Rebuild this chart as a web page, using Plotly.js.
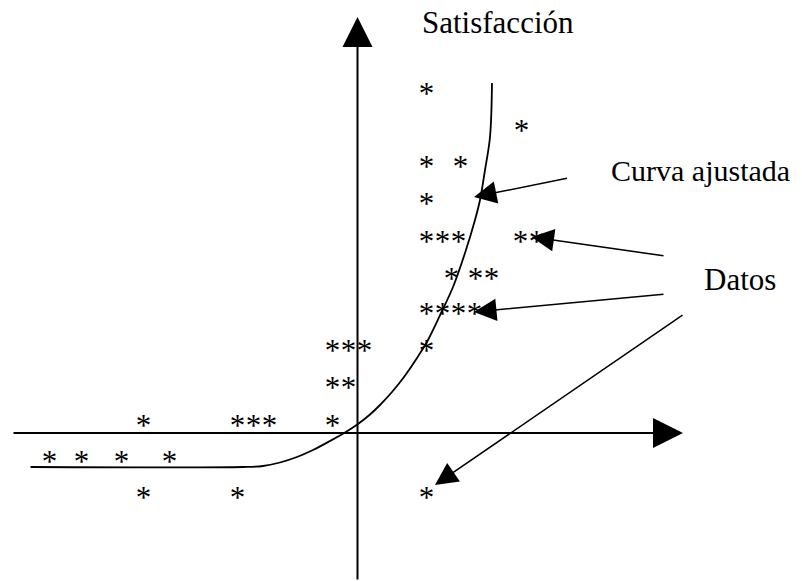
<!DOCTYPE html>
<html>
<head>
<meta charset="utf-8">
<script src="https://cdn.plot.ly/plotly-3.0.1.min.js"></script>
<style>html,body{margin:0;padding:0;background:#fff;}#chart{width:802px;height:581px;}</style>
</head>
<body>
<div id="chart"></div>
<script>
// Fitted curve (schematic units, origin at axis crossing)
var curveX = [-32.7, -11.45, -9.45, -7.75, -6.05, -4.45, -2.75, -1.25, 0.05, 1.25, 2.25, 3.45, 4.65, 5.95, 7.05, 8.45, 9.55, 10.75, 11.75, 12.25, 12.75, 13.25, 13.45];
var curveY = [-3.4, -3.4, -3.3, -2.95, -2.4, -1.7, -0.8, 0.05, 0.9, 1.85, 2.8, 4.1, 5.6, 7.5, 9.3, 12.2, 14.6, 18.0, 21.3, 23.3, 26.3, 29.6, 35.0];

// Data points (asterisks)
var datosX = [6.9, 16.4, 6.9, 10.3, 6.9, 6.9, 8.5, 10.1, 16.3, 17.9, 9.4, 11.8, 13.4, 6.9, 8.5, 10.1, 11.7, 6.9,
              -2.5, -0.9, 0.7, -2.5, -0.9, -2.5, -21.4, -12.0, -10.4, -8.8, -30.8, -27.6, -23.6, -18.8, -21.4, -12.0, 6.9];
var datosY = [34.3, 30.6, 27.0, 27.0, 23.3, 19.5, 19.5, 19.5, 19.5, 19.5, 15.8, 15.8, 15.8, 12.3, 12.3, 12.3, 12.3, 8.6,
              8.6, 8.6, 8.6, 4.9, 4.9, 1.1, 1.1, 1.1, 1.1, 1.1, -2.5, -2.5, -2.5, -2.5, -6.1, -6.1, -6.1];

// Axis extents
var axisXStart = -34.55, axisXEnd = 32.55;
var axisYStart = -14.8, axisYEnd = 41.6;

// Labels
var yLabel = 'Satisfacción';
var curveLabel = 'Curva ajustada';
var dataLabel = 'Datos';

var font = '"Liberation Serif", "Times New Roman", serif';
var yRange = [-14.8, 43.3];
var glyphShift = 0.65; // asterisk glyph sits above its text centre

var traces = [
  {
    x: curveX, y: curveY, mode: 'lines', type: 'scatter',
    line: {color: '#000', width: 1.8, shape: 'spline', smoothing: 1},
    hoverinfo: 'skip'
  },
  {
    x: datosX, y: datosY, mode: 'text', type: 'scatter', yaxis: 'y2',
    text: datosX.map(function(){return '*';}),
    textposition: 'middle center',
    textfont: {family: font, size: 31, color: '#000'},
    hoverinfo: 'skip'
  }
];

function arrow(x0, y0, x1, y1, w) {
  return {
    x: x1, y: y1, ax: x0, ay: y0, xref: 'x', yref: 'y', axref: 'x', ayref: 'y',
    text: '', showarrow: true, arrowhead: 2, arrowsize: 3, arrowwidth: w,
    arrowcolor: '#000', standoff: 0, startstandoff: 0
  };
}

var annotations = [
  arrow(axisXStart, 0, axisXEnd, 0, 2),
  arrow(0, axisYStart, 0, axisYEnd, 2),
  arrow(21.1, 25.5, 11.65, 23.6, 1.5),
  arrow(30.75, 17.7, 17.4, 19.6, 1.5),
  arrow(30.75, 13.9, 11.65, 12.1, 1.5),
  arrow(32.65, 11.9, 7.75, -5.2, 1.5),
  {x: 6.25, y: 41.1, xref: 'x', yref: 'y', text: yLabel, showarrow: false, xanchor: 'left', yanchor: 'middle',
   font: {family: font, size: 31, color: '#000'}},
  {x: 25.15, y: 26.25, xref: 'x', yref: 'y', text: curveLabel, showarrow: false, xanchor: 'left', yanchor: 'middle',
   font: {family: font, size: 30, color: '#000'}},
  {x: 34.45, y: 15.4, xref: 'x', yref: 'y', text: dataLabel, showarrow: false, xanchor: 'left', yanchor: 'middle',
   font: {family: font, size: 31, color: '#000'}}
];

var layout = {
  width: 802, height: 581,
  margin: {l: 0, r: 0, t: 0, b: 0, pad: 0},
  paper_bgcolor: '#fff', plot_bgcolor: '#fff',
  showlegend: false,
  xaxis: {range: [-35.75, 44.45], visible: false, fixedrange: true},
  yaxis: {range: yRange, visible: false, fixedrange: true},
  yaxis2: {range: [yRange[0] + glyphShift, yRange[1] + glyphShift], overlaying: 'y', visible: false, fixedrange: true},
  annotations: annotations
};

Plotly.newPlot('chart', traces, layout, {displayModeBar: false, staticPlot: true});
</script>
</body>
</html>
